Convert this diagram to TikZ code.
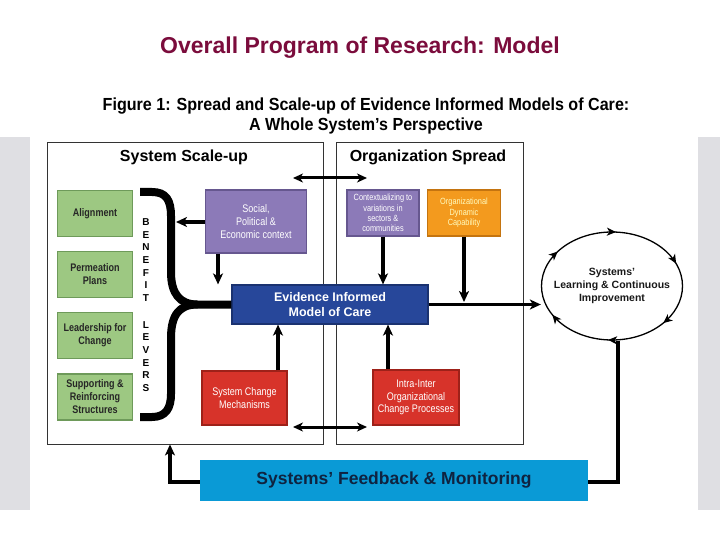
\documentclass[tikz,border=0pt]{standalone}
\usepackage{fontspec}
\setmainfont{Liberation Sans}
\newfontfamily\cond[FakeStretch=0.82]{Liberation Sans}
\newfontfamily\semicond[FakeStretch=0.92]{Liberation Sans}
\usetikzlibrary{arrows.meta,decorations.markings,shapes.geometric}
\definecolor{panelgray}{HTML}{DFDFE3}
\definecolor{maroon}{HTML}{7B0C3C}
\definecolor{greenbox}{HTML}{9DC882}
\definecolor{greenedge}{HTML}{6E9A5A}
\definecolor{purplebox}{HTML}{8C7AB8}
\definecolor{purpleedge}{HTML}{66578F}
\definecolor{orangebox}{HTML}{F39A1E}
\definecolor{orangeedge}{HTML}{C47410}
\definecolor{bluebox}{HTML}{27479A}
\definecolor{blueedge}{HTML}{1A3270}
\definecolor{redbox}{HTML}{D7332A}
\definecolor{rededge}{HTML}{9E2119}
\definecolor{cyanbox}{HTML}{0A9AD6}
\definecolor{navytext}{HTML}{0F2340}
\begin{document}
\begin{tikzpicture}[x=1pt,y=-1pt,
  panel/.style={draw=black!80, line width=0.9pt, inner sep=0pt},
  colbox/.style={inner sep=1pt, align=center, line width=1.2pt},
  greenb/.style={colbox, fill=greenbox, draw=greenedge, minimum width=75pt, minimum height=46pt, font=\cond\bfseries\fontsize{11}{13}\selectfont, text=black!85},
  purpleb/.style={colbox, fill=purplebox, draw=purpleedge, text=white},
  orangeb/.style={colbox, fill=orangebox, draw=orangeedge, text=yellow!25},
  redb/.style={colbox, fill=redbox, draw=rededge, text=white},
  arr/.style={line width=3.5pt, -{Stealth[length=11pt,width=10pt,inset=3pt]}},
  dblarr/.style={line width=3pt, {Stealth[length=10pt,width=9pt,inset=3pt]}-{Stealth[length=10pt,width=9pt,inset=3pt]}},
  plain/.style={line width=3.5pt},
  brace/.style={line width=8pt},
]
\useasboundingbox (0,0) rectangle (720,540);
\fill[white] (0,0) rectangle (720,540);
\fill[panelgray] (0,137) rectangle (30,510);
\fill[panelgray] (698,137) rectangle (720,510);

\node[font=\bfseries\fontsize{23}{26}\selectfont, text=maroon] (title) at (360,48) {Overall Program of Research: Model};
\node[align=center, font=\semicond\bfseries\fontsize{17.5}{20}\selectfont] (figtitle) at (366,116)
  {Figure 1: Spread and Scale-up of Evidence Informed Models of Care:\\A Whole System’s Perspective};

% panels
\node[panel, minimum width=276pt, minimum height=302pt] (scale) at (185,293) {};
\node[panel, minimum width=187pt, minimum height=302pt] (spread) at (429.5,293) {};
\node[font=\bfseries\fontsize{16}{18}\selectfont] (scalehead) at (184,157) {System Scale-up};
\node[font=\bfseries\fontsize{16}{18}\selectfont] (spreadhead) at (428,157) {Organization Spread};

% green boxes
\node[greenb] (align) at (95,213.5) {Alignment};
\node[greenb] (perm) at (95,274.5) {Permeation\\Plans};
\node[greenb] (lead) at (95,335.5) {Leadership for\\Change};
\node[greenb] (supp) at (95,397) {Supporting \&\\Reinforcing\\Structures};

\node[align=center, font=\bfseries\fontsize{10}{12.6}\selectfont] (benefit) at (146,260) {B\\E\\N\\E\\F\\I\\T};
\node[align=center, font=\bfseries\fontsize{10}{12.6}\selectfont] (levers) at (146,356.5) {L\\E\\V\\E\\R\\S};

% coloured boxes
\node[purpleb, minimum width=101pt, minimum height=63pt, font=\cond\fontsize{11}{13}\selectfont] (social) at (256,221.5) {Social,\\Political \&\\Economic context};
\node[purpleb, minimum width=72pt, minimum height=46pt, font=\cond\fontsize{9}{10.3}\selectfont] (context) at (383,213) {Contextualizing to\\variations in\\sectors \&\\communities};
\node[orangeb, minimum width=73pt, minimum height=46pt, font=\cond\fontsize{9}{10.5}\selectfont] (orgdyn) at (464,213) {Organizational\\Dynamic\\Capability};
\node[colbox, fill=bluebox, draw=blueedge, text=white, minimum width=196pt, minimum height=39pt, font=\bfseries\fontsize{12.5}{14.5}\selectfont] (evidence) at (330,304.5) {Evidence Informed\\Model of Care};
\node[redb, minimum width=85pt, minimum height=54pt, font=\cond\fontsize{11}{13.5}\selectfont] (sysch) at (244.5,398) {System Change\\Mechanisms};
\node[redb, minimum width=86pt, minimum height=55pt, font=\cond\fontsize{11}{12.5}\selectfont] (intra) at (416,397.5) {Intra-Inter\\Organizational\\Change Processes};

\node[ellipse, draw, line width=1.3pt, minimum width=141pt, minimum height=108pt, inner sep=0pt,
  postaction={decorate, decoration={markings,
    mark=at position 0.06 with {\arrowreversed{Stealth[length=9pt,width=8pt,inset=2.5pt]}},
    mark=at position 0.24 with {\arrowreversed{Stealth[length=9pt,width=8pt,inset=2.5pt]}},
    mark=at position 0.40 with {\arrowreversed{Stealth[length=9pt,width=8pt,inset=2.5pt]}},
    mark=at position 0.58 with {\arrowreversed{Stealth[length=9pt,width=8pt,inset=2.5pt]}},
    mark=at position 0.74 with {\arrowreversed{Stealth[length=9pt,width=8pt,inset=2.5pt]}},
    mark=at position 0.89 with {\arrowreversed{Stealth[length=9pt,width=8pt,inset=2.5pt]}}}}]
  (learn) at (612,286) {};
\node[align=center, font=\bfseries\fontsize{10.5}{13}\selectfont, text=black!90] (learntext) at (learn.center) {Systems'\\Learning \& Continuous\\Improvement};

\node[fill=cyanbox, minimum width=388pt, minimum height=41pt, inner sep=0pt, text=navytext, font=\bfseries\fontsize{17.5}{20}\selectfont] (feedback) at (394,480) {Systems' Feedback \& Monitoring};

% brace
\coordinate (bt) at (140,192);
\coordinate (bb) at (140,417);
\coordinate (bmid) at ([xshift=-34pt]evidence.west);
\draw[brace] (bt) -- (152,192) .. controls (166,192) and (171,200) .. (171,216) -- (171,272)
  .. controls (171,294) and (180,304.5) .. (bmid) -- (evidence.west);
\draw[brace] (bb) -- (152,417) .. controls (166,417) and (171,408) .. (171,394) -- (171,338)
  .. controls (171,314) and (180,304.5) .. (bmid);

% connectors
\coordinate (dta) at (293,178);
\coordinate (dtb) at (367,178);
\draw[dblarr] (dta) -- (dtb);
\coordinate (dba) at (293,427);
\coordinate (dbb) at (367,427);
\draw[dblarr] (dba) -- (dbb);

\coordinate (bracehit) at (176,222);
\draw[arr] (social.west |- bracehit) -- (bracehit);
\draw[arr] ([xshift=-38pt]social.south) -- ([xshift=-38pt]social.south |- evidence.north);
\draw[arr] (context.south) -- (context.south |- evidence.north);
\coordinate (orgline) at (464,302);
\draw[arr] (orgdyn.south) -- (orgline);
\draw[arr] (evidence.east) -- (evidence.east -| learn.west);
\draw[arr] ([xshift=33.5pt]sysch.north) -- ([xshift=33.5pt]sysch.north |- evidence.south);
\draw[arr] ([xshift=-28pt]intra.north) -- ([xshift=-28pt]intra.north |- evidence.south);

\coordinate (rcorner) at (618,482);
\coordinate (lcorner) at (170,482);
\draw[plain] ([xshift=6pt]learn.south) -- (rcorner) -- (rcorner -| feedback.east);
\draw[arr] (lcorner -| feedback.west) -- (lcorner) -- (lcorner |- scale.south);
\end{tikzpicture}
\end{document}
